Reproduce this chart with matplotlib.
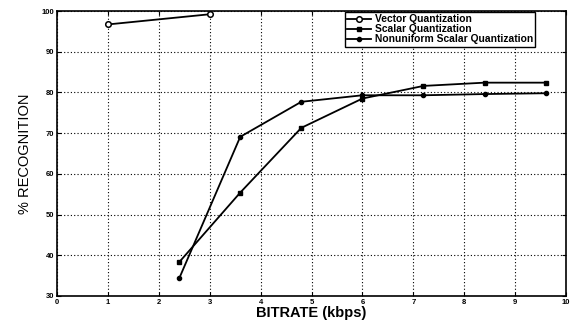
import numpy as np
import matplotlib.pyplot as plt

plt.rcParams['font.family'] = ['Liberation Sans', 'DejaVu Sans']

# Data
vq_rate = [1.0, 3.0]
vq_rec = [96.7, 99.2]

sq_rate = [2.4, 3.6, 4.8, 6.0, 7.2, 8.4, 9.6]
sq_rec = [38.3, 55.4, 71.3, 78.5, 81.6, 82.4, 82.4]

nsq_rate = [2.4, 3.6, 4.8, 6.0, 7.2, 8.4, 9.6]
nsq_rec = [34.3, 69.1, 77.7, 79.3, 79.3, 79.6, 79.8]

xticks = list(range(0, 11))
yticks = list(range(30, 101, 10))

fig = plt.figure(figsize=(5.77, 3.24), dpi=100)
ax = fig.add_axes([57 / 577, 28 / 324, 509 / 577, 285 / 324])

ax.plot(vq_rate, vq_rec, color='black', lw=1.3, marker='o', ms=4,
        mfc='white', mec='black', mew=1.1, label='Vector Quantization')
ax.plot(sq_rate, sq_rec, color='black', lw=1.3, marker='s', ms=3.5,
        mfc='black', mec='black', label='Scalar Quantization')
ax.plot(nsq_rate, nsq_rec, color='black', lw=1.3, marker='o', ms=3,
        mfc='black', mec='black', label='Nonuniform Scalar Quantization')

ax.set_xlim(0, 10)
ax.set_ylim(30, 100)
ax.set_xticks(xticks)
ax.set_yticks(yticks)
ax.set_xticklabels([str(t) for t in xticks], fontsize=5.5, fontweight='bold')
ax.set_yticklabels([str(t) for t in yticks], fontsize=5.5, fontweight='bold')
ax.tick_params(direction='in', length=3, width=0.8, top=True, right=True, pad=2)

ax.grid(True, color='black', linestyle=(0, (1, 2)), linewidth=0.8)
for s in ax.spines.values():
    s.set_linewidth(1.2)

ax.set_xlabel('BITRATE (kbps)', fontsize=10.5, fontweight='bold', labelpad=0)
ax.set_ylabel('% RECOGNITION', fontsize=10.5, labelpad=7)

leg = ax.legend(loc='upper right', bbox_to_anchor=(0.939, 0.995),
                prop={'weight': 'bold', 'size': 7.4}, frameon=True, fancybox=False,
                edgecolor='black', framealpha=1, borderpad=0.2, labelspacing=0.0,
                handlelength=2.3, handletextpad=0.4, borderaxespad=0)
leg.get_frame().set_linewidth(1.0)

fig.savefig('out.png', dpi=100)
